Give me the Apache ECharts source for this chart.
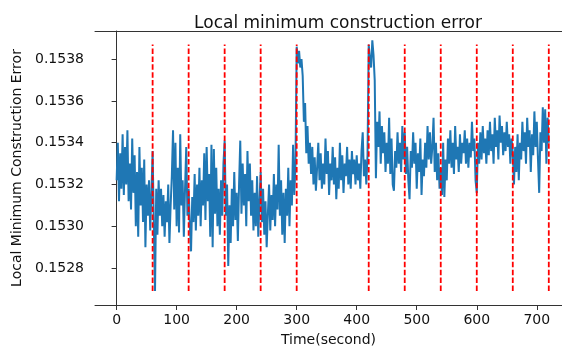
<!DOCTYPE html>
<html>
    <head>
        <meta charset="utf-8">
        <title>Local minimum construction error</title>
        <script src="https://cdn.jsdelivr.net/npm/echarts@6/dist/echarts.min.js"></script>
        <style>
            html, body { margin: 0; padding: 0; background: #fff; }
            #chart1 { width: 562px; height: 352px; }
        </style>
    </head>
    <body>
        <div id="chart1"></div>
    </body>

    <script type="text/javascript">
        // 采样间隔（秒）
        var stepSeconds = 2;

        // 误差值，每 2 秒一个，从 0 到 720 秒
        var errorValues = [
            0.15322, 0.15340, 0.15312, 0.15335, 0.15318, 0.15344, 0.15315, 0.15338, 0.15320, 0.15346,
            0.15312, 0.15330, 0.15308, 0.15342, 0.15316, 0.15334, 0.15300, 0.15326, 0.15295, 0.15338,
            0.15310, 0.15328, 0.15302, 0.15332, 0.15290, 0.15320, 0.15305, 0.15322, 0.15298, 0.15316,
            0.15336, 0.15300, 0.15269, 0.15318, 0.15296, 0.15322, 0.15305, 0.15318, 0.15300, 0.15315,
            0.15295, 0.15312, 0.15302, 0.15320, 0.15292, 0.15310, 0.15324, 0.15346, 0.15308, 0.15340,
            0.15300, 0.15328, 0.15297, 0.15344, 0.15310, 0.15322, 0.15295, 0.15318, 0.15338, 0.15305,
            0.15318, 0.15300, 0.15288, 0.15314, 0.15302, 0.15325, 0.15298, 0.15320, 0.15305, 0.15328,
            0.15300, 0.15322, 0.15310, 0.15335, 0.15303, 0.15338, 0.15312, 0.15325, 0.15295, 0.15339,
            0.15290, 0.15337, 0.15306, 0.15328, 0.15300, 0.15318, 0.15296, 0.15322, 0.15305, 0.15330,
            0.15341, 0.15305, 0.15320, 0.15281, 0.15310, 0.15292, 0.15318, 0.15300, 0.15326, 0.15303,
            0.15316, 0.15293, 0.15320, 0.15341, 0.15306, 0.15330, 0.15310, 0.15325, 0.15300, 0.15336,
            0.15312, 0.15330, 0.15305, 0.15322, 0.15298, 0.15316, 0.15300, 0.15324, 0.15295, 0.15312,
            0.15326, 0.15302, 0.15318, 0.15296, 0.15312, 0.15290, 0.15306, 0.15320, 0.15298, 0.15315,
            0.15303, 0.15325, 0.15300, 0.15320, 0.15308, 0.15339, 0.15305, 0.15322, 0.15296, 0.15316,
            0.15292, 0.15318, 0.15305, 0.15328, 0.15300, 0.15322, 0.15310, 0.15339, 0.15315, 0.15330,
            0.15386, 0.15378, 0.15384, 0.15376, 0.15380, 0.15372, 0.15350, 0.15359, 0.15335, 0.15348,
            0.15330, 0.15340, 0.15325, 0.15338, 0.15320, 0.15333, 0.15317, 0.15328, 0.15340, 0.15322,
            0.15335, 0.15318, 0.15330, 0.15320, 0.15342, 0.15325, 0.15336, 0.15315, 0.15330, 0.15322,
            0.15338, 0.15320, 0.15333, 0.15313, 0.15328, 0.15318, 0.15340, 0.15322, 0.15334, 0.15316,
            0.15330, 0.15324, 0.15338, 0.15320, 0.15332, 0.15318, 0.15336, 0.15325, 0.15332, 0.15320,
            0.15334, 0.15322, 0.15330, 0.15318, 0.15336, 0.15345, 0.15324, 0.15332, 0.15320, 0.15334,
            0.15387, 0.15380, 0.15376, 0.15389, 0.15382, 0.15370, 0.15323, 0.15350, 0.15338, 0.15355,
            0.15330, 0.15348, 0.15335, 0.15345, 0.15326, 0.15340, 0.15330, 0.15352, 0.15325, 0.15342,
            0.15320, 0.15317, 0.15336, 0.15328, 0.15345, 0.15330, 0.15340, 0.15326, 0.15348, 0.15332,
            0.15345, 0.15325, 0.15338, 0.15322, 0.15313, 0.15336, 0.15328, 0.15345, 0.15330, 0.15340,
            0.15318, 0.15335, 0.15326, 0.15342, 0.15315, 0.15332, 0.15324, 0.15340, 0.15328, 0.15348,
            0.15332, 0.15345, 0.15330, 0.15338, 0.15352, 0.15326, 0.15340, 0.15322, 0.15335, 0.15318,
            0.15328, 0.15315, 0.15340, 0.15314, 0.15332, 0.15322, 0.15342, 0.15330, 0.15346, 0.15328,
            0.15340, 0.15325, 0.15348, 0.15332, 0.15338, 0.15326, 0.15344, 0.15330, 0.15340, 0.15335,
            0.15346, 0.15330, 0.15342, 0.15328, 0.15340, 0.15333, 0.15350, 0.15336, 0.15342, 0.15322,
            0.15316, 0.15340, 0.15330, 0.15345, 0.15332, 0.15348, 0.15335, 0.15342, 0.15330, 0.15346,
            0.15334, 0.15350, 0.15336, 0.15344, 0.15330, 0.15352, 0.15338, 0.15346, 0.15332, 0.15353,
            0.15340, 0.15348, 0.15334, 0.15345, 0.15336, 0.15350, 0.15338, 0.15344, 0.15330, 0.15342,
            0.15335, 0.15320, 0.15338, 0.15326, 0.15344, 0.15322, 0.15340, 0.15332, 0.15350, 0.15336,
            0.15345, 0.15330, 0.15352, 0.15338, 0.15346, 0.15326, 0.15344, 0.15334, 0.15355, 0.15338,
            0.15350, 0.15332, 0.15316, 0.15345, 0.15336, 0.15357, 0.15340, 0.15356, 0.15330, 0.15352,
            0.15340
        ];

        // 红色虚线的位置（秒）和上下端
        var markTimes = [60, 120, 180, 240, 300, 420, 480, 540, 600, 660, 720];
        var markRange = [0.15269, 0.15387];

        // 坐标轴刻度
        var xTicks = [0, 100, 200, 300, 400, 500, 600, 700];
        var yTicks = [0.1528, 0.1530, 0.1532, 0.1534, 0.1536, 0.1538];

        var lineData = errorValues.map(function (v, i) { return [i * stepSeconds, v]; });

        var series = [{
            name: 'error',
            type: 'line',
            data: lineData,
            showSymbol: false,
            lineStyle: { color: '#1f77b4', width: 2 },
            z: 2
        }];
        markTimes.forEach(function (t) {
            series.push({
                type: 'line',
                data: [[t, markRange[0]], [t, markRange[1]]],
                showSymbol: false,
                lineStyle: { color: '#ff0000', width: 1.8, type: [5.5, 2.4] },
                z: 3
            });
        });

        var font = 'DejaVu Sans';
        var axisColor = '#333';
        var textColor = '#111';

        var myChart1 = echarts.init(document.getElementById('chart1'));
        myChart1.setOption({
            animation: false,
            title: {
                text: 'Local minimum construction error',
                left: 333,
                textAlign: 'center',
                top: 10,
                textStyle: { fontFamily: font, fontSize: 17, fontWeight: 'normal', color: textColor }
            },
            grid: { left: 95, right: 0, top: 31, bottom: 39 },
            xAxis: [{
                type: 'value',
                min: -36,
                max: 742,
                name: 'Time(second)',
                nameLocation: 'middle',
                nameGap: 28,
                nameTextStyle: { fontFamily: font, fontSize: 14, color: textColor },
                axisLine: { lineStyle: { color: axisColor, width: 1 } },
                axisTick: { customValues: xTicks, length: 5, lineStyle: { color: axisColor } },
                axisLabel: { customValues: xTicks, fontFamily: font, fontSize: 14, color: textColor, margin: 8 },
                splitLine: { show: false }
            }, {
                type: 'value',
                position: 'top',
                min: -36,
                max: 742,
                axisLine: { lineStyle: { color: axisColor, width: 1 } },
                axisTick: { show: false },
                axisLabel: { show: false },
                splitLine: { show: false }
            }],
            yAxis: {
                type: 'value',
                min: 0.152623,
                max: 0.153935,
                name: 'Local Minimum Construction Error',
                nameLocation: 'middle',
                nameGap: 68,
                nameTextStyle: { fontFamily: font, fontSize: 14, color: textColor },
                axisLine: { show: true, lineStyle: { color: axisColor, width: 1 } },
                axisTick: { show: true, customValues: yTicks, length: 5, lineStyle: { color: axisColor } },
                axisLabel: {
                    customValues: yTicks,
                    fontFamily: font,
                    fontSize: 14,
                    color: textColor,
                    margin: 11,
                    formatter: function (v) { return v.toFixed(4); }
                },
                splitLine: { show: false }
            },
            series: series
        });
    </script>

</html>
